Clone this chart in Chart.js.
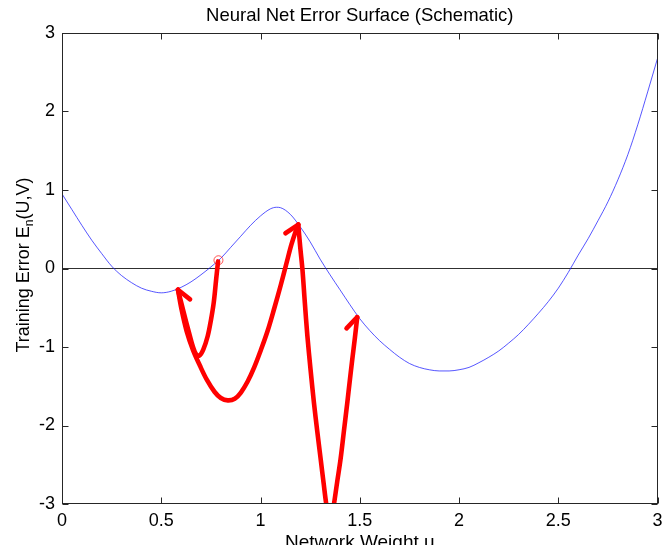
<!DOCTYPE html>
<html><head><meta charset="utf-8">
<script src="https://cdn.jsdelivr.net/npm/chart.js@4.4.0/dist/chart.umd.min.js"></script>
<style>html,body{margin:0;padding:0;background:#fff;overflow:hidden}canvas{display:block}</style>
</head><body>
<canvas id="c" width="663" height="545"></canvas>
<script>
// ---- data ----
const surfaceX = [0,0.05,0.1,0.15,0.2,0.25,0.3,0.35,0.4,0.45,0.5,0.55,0.6,0.65,0.7,0.75,0.8,0.85,0.9,0.95,1.0,1.05,1.08,1.1,1.15,1.2,1.25,1.3,1.35,1.4,1.45,1.5,1.55,1.6,1.65,1.7,1.75,1.8,1.85,1.9,1.95,2.0,2.05,2.1,2.15,2.2,2.25,2.3,2.35,2.4,2.45,2.5,2.55,2.6,2.65,2.7,2.75,2.8,2.85,2.9,2.95,3.0];
const surfaceY = [0.95,0.75,0.55,0.36,0.19,0.03,-0.09,-0.18,-0.25,-0.29,-0.31,-0.29,-0.24,-0.17,-0.08,0.02,0.13,0.27,0.41,0.55,0.67,0.76,0.78,0.775,0.69,0.53,0.34,0.12,-0.08,-0.27,-0.46,-0.64,-0.79,-0.92,-1.03,-1.13,-1.21,-1.26,-1.29,-1.305,-1.305,-1.29,-1.26,-1.20,-1.13,-1.05,-0.95,-0.84,-0.71,-0.57,-0.42,-0.25,-0.05,0.17,0.38,0.61,0.85,1.13,1.45,1.83,2.25,2.68];

const pathAX = [0.786,0.776,0.764,0.750,0.734,0.712,0.692,0.675,0.660,0.638,0.612,0.584];
const pathAY = [0.09,-0.15,-0.44,-0.66,-0.86,-1.03,-1.11,-1.09,-1.00,-0.80,-0.55,-0.27];

const pathBX = [0.584,0.602,0.628,0.660,0.695,0.730,0.768,0.800,0.835,0.870,0.901,0.935,0.968,1.000,1.035,1.070,1.102,1.130,1.155,1.175,1.190];
const pathBY = [-0.27,-0.52,-0.80,-1.04,-1.24,-1.42,-1.57,-1.65,-1.68,-1.66,-1.58,-1.44,-1.26,-1.05,-0.80,-0.50,-0.21,0.06,0.30,0.46,0.56];

const pathCX = [1.190,1.200,1.211,1.223,1.236,1.252,1.269,1.286,1.303,1.318,1.331,1.342,1.351,1.360,1.370,1.386,1.403,1.420,1.437,1.450,1.462,1.475,1.487];
const pathCY = [0.56,0.27,-0.01,-0.43,-0.86,-1.29,-1.71,-2.08,-2.43,-2.74,-3.0,-3.15,-3.2,-3.15,-3.0,-2.72,-2.43,-2.07,-1.71,-1.42,-1.16,-0.89,-0.62];

const startX = [0.788];
const startY = [0.105];

const zeroLineX = [0, 3];
const zeroLineY = [0, 0];

const xTicks = [0, 0.5, 1, 1.5, 2, 2.5, 3];
const yTicks = [-3, -2, -1, 0, 1, 2, 3];

const titleText = "Neural Net Error Surface (Schematic)";
const xLabelText = "Network Weight u";
const yLabelMain = "Training Error E";
const yLabelSub = "n";
const yLabelTail = "(U,V)";

// ---- helpers ----
const pts = (xs, ys) => xs.map((x, i) => ({x, y: ys[i]}));
const FONT = '"Liberation Sans", Arial, Helvetica, sans-serif';
const paths = [[pathAX, pathAY], [pathBX, pathBY], [pathCX, pathCY]];

const redLine = (xs, ys) => ({
  data: pts(xs, ys), showLine: true, pointRadius: 0, borderColor: '#ff0000',
  borderWidth: 4.6, tension: 0.35, borderCapStyle: 'round', borderJoinStyle: 'round', clip: 0
});

const framePlugin = {
  id: 'matlabFrame',
  afterDatasetsDraw(chart) {
    const ctx = chart.ctx, a = chart.chartArea;
    const xs = chart.scales.x, ys = chart.scales.y;
    ctx.save();
    // arrowheads
    ctx.strokeStyle = '#ff0000';
    ctx.lineWidth = 4.6;
    ctx.lineCap = 'round';
    paths.forEach(([px, py]) => {
      const n = px.length;
      const tx = xs.getPixelForValue(px[n-1]), ty = ys.getPixelForValue(py[n-1]);
      const bx = xs.getPixelForValue(px[n-3]), by = ys.getPixelForValue(py[n-3]);
      const sx = xs.getPixelForValue(px[0]);
      let dx = bx - tx, dy = by - ty;
      const L = Math.hypot(dx, dy); dx /= L; dy /= L;
      const ang = 37 * Math.PI / 180;
      const r1 = {x: dx*Math.cos(ang) - dy*Math.sin(ang), y: dx*Math.sin(ang) + dy*Math.cos(ang)};
      const r2 = {x: dx*Math.cos(-ang) - dy*Math.sin(-ang), y: dx*Math.sin(-ang) + dy*Math.cos(-ang)};
      const side = Math.sign(sx - tx);
      const r = (r1.x * side > r2.x * side) ? r1 : r2;
      const len = 15.5;
      ctx.beginPath();
      ctx.moveTo(tx, ty);
      ctx.lineTo(tx + r.x*len, ty + r.y*len);
      ctx.stroke();
    });
    // frame and ticks
    ctx.strokeStyle = '#262626';
    ctx.lineWidth = 1;
    ctx.lineCap = 'butt';
    const L = Math.round(a.left) + 0.5, R = Math.round(a.right) - 0.5;
    const T = Math.round(a.top) + 0.5, B = Math.round(a.bottom) - 0.5;
    ctx.strokeRect(L, T, R - L, B - T);
    const tl = 6;
    ctx.beginPath();
    xTicks.forEach(v => {
      const p = Math.round(xs.getPixelForValue(v)) + 0.5;
      ctx.moveTo(p, B); ctx.lineTo(p, B - tl);
      ctx.moveTo(p, T); ctx.lineTo(p, T + tl);
    });
    yTicks.forEach(v => {
      const p = Math.round(ys.getPixelForValue(v)) + 0.5;
      ctx.moveTo(L, p); ctx.lineTo(L + tl, p);
      ctx.moveTo(R, p); ctx.lineTo(R - tl, p);
    });
    ctx.stroke();
    ctx.restore();
  },
  afterDraw(chart) {
    const ctx = chart.ctx, a = chart.chartArea;
    const cx = (a.left + a.right) / 2;
    ctx.save();
    ctx.fillStyle = '#000';
    ctx.textAlign = 'center';
    ctx.textBaseline = 'alphabetic';
    ctx.font = '18.5px ' + FONT;
    ctx.fillText(titleText, cx, 21);
    ctx.font = '19px ' + FONT;
    ctx.fillText(xLabelText, cx, 548);
    // y label with subscript
    const mainF = '18px ' + FONT, subF = '12px ' + FONT;
    ctx.font = mainF; const w1 = ctx.measureText(yLabelMain).width, w3 = ctx.measureText(yLabelTail).width;
    ctx.font = subF; const w2 = ctx.measureText(yLabelSub).width;
    const total = w1 + w2 + w3;
    ctx.translate(0, 265);
    ctx.rotate(-Math.PI / 2);
    ctx.textAlign = 'left';
    let x0 = -total / 2;
    ctx.font = mainF; ctx.fillText(yLabelMain, x0, 29); x0 += w1;
    ctx.font = subF; ctx.fillText(yLabelSub, x0, 33); x0 += w2;
    ctx.font = mainF; ctx.fillText(yLabelTail, x0, 29);
    ctx.restore();
  }
};

new Chart(document.getElementById('c'), {
  type: 'scatter',
  data: {
    datasets: [
      redLine(pathAX, pathAY),
      redLine(pathBX, pathBY),
      redLine(pathCX, pathCY),
      { data: pts(startX, startY), showLine: false, pointRadius: 4.5, pointStyle: 'circle',
        borderColor: 'rgba(255,0,0,0.75)', backgroundColor: 'rgba(0,0,0,0)', pointBorderWidth: 0.9, clip: 0 },
      { data: pts(surfaceX, surfaceY), showLine: true, pointRadius: 0, borderColor: 'rgba(30,30,255,0.75)',
        borderWidth: 1, cubicInterpolationMode: 'monotone', clip: 0 },
      { data: pts(zeroLineX, zeroLineY), showLine: true, pointRadius: 0, borderColor: '#303030', borderWidth: 1, clip: 0 }
    ]
  },
  options: {
    responsive: false, animation: false, devicePixelRatio: 1, events: [],
    layout: { padding: { top: 33, right: 3, left: 0, bottom: 0 } },
    plugins: { legend: { display: false }, tooltip: { enabled: false }, title: { display: false } },
    scales: {
      x: {
        type: 'linear', min: 0, max: 3,
        afterBuildTicks: s => { s.ticks = xTicks.map(v => ({value: v})); },
        ticks: { color: '#000', font: { size: 18, family: FONT }, padding: 6, maxRotation: 0,
                 callback: v => String(v) },
        grid: { display: false, drawTicks: false }, border: { display: false },
        afterFit: s => { s.height = 41; s.paddingLeft = 0; s.paddingRight = 0; }
      },
      y: {
        type: 'linear', min: -3, max: 3,
        afterBuildTicks: s => { s.ticks = yTicks.map(v => ({value: v})); },
        ticks: { color: '#000', font: { size: 18, family: FONT }, padding: 7, callback: v => String(v) },
        grid: { display: false, drawTicks: false }, border: { display: false },
        afterFit: s => { s.width = 62; s.paddingTop = 0; s.paddingBottom = 0; }
      }
    }
  },
  plugins: [framePlugin]
});
</script>
</body></html>
